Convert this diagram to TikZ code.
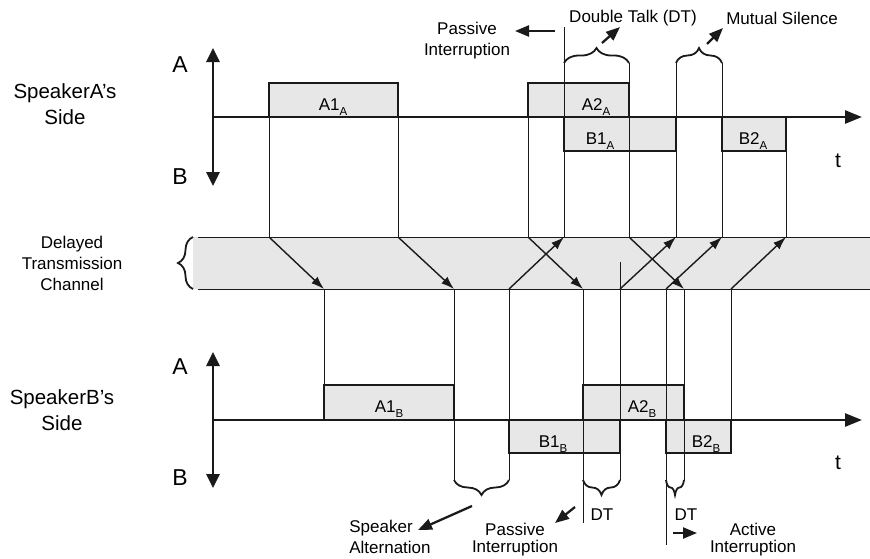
\documentclass[tikz,border=0pt]{standalone}
\usepackage{fontspec}
\setmainfont{Liberation Sans}
\usepackage{tikz}
\usetikzlibrary{arrows.meta, decorations.pathreplacing, positioning}

\newcommand{\subtag}[1]{\raisebox{-5pt}{\fontsize{11.5}{12}\selectfont #1}}

\begin{document}
\begin{tikzpicture}[x=1pt, y=-1pt,
  lbl/.style={font=\fontsize{17}{21}\selectfont, inner sep=1pt, align=center},
  boxlbl/.style={font=\fontsize{17}{21}\selectfont, inner sep=0pt, anchor=base},
  sidelbl/.style={font=\fontsize{20.5}{26}\selectfont, inner sep=0pt, align=center},
  axlbl/.style={font=\fontsize{23}{26}\selectfont, inner sep=0pt},
  tlbl/.style={font=\fontsize{21}{24}\selectfont, inner sep=0pt},
  talkbox/.style={fill=chgray, draw=ink, line width=1.6pt},
  guide/.style={draw=ink, line width=0.8pt},
  chline/.style={draw=ink, line width=0.9pt},
  axisline/.style={draw=ink, line width=2.6pt},
  delay/.style={draw=ink, line width=1.4pt, -{Latex[length=13pt,width=9pt]}},
  callout/.style={draw=ink, line width=2.3pt, -{Triangle[length=14pt,width=11pt]}},
  topbrace/.style={draw=ink, line width=1.8pt, decorate, decoration={brace, amplitude=15pt}},
  botbrace/.style={draw=ink, line width=1.8pt, decorate, decoration={brace, amplitude=15pt, mirror}}]
  \definecolor{chgray}{HTML}{E6E7E6}
  \definecolor{ink}{HTML}{1A1A1A}

  \useasboundingbox (0,0) rectangle (870,558);

  % levels
  \coordinate (axA) at (213,117);
  \coordinate (hiA) at (213,83);
  \coordinate (loA) at (213,151);
  \coordinate (brA) at (213,63);
  \coordinate (piA) at (213,27);
  \coordinate (axB) at (213,420);
  \coordinate (hiB) at (213,385);
  \coordinate (loB) at (213,453);
  \coordinate (brB) at (213,480);
  \coordinate (dtA) at (213,523);
  \coordinate (dtC) at (213,545);
  \coordinate (midC) at (213,262);

  % time marks on speaker A's side of the channel
  \coordinate (ta1) at (269,237);
  \coordinate (ta2) at (398,237);
  \coordinate (ta3) at (528,237);
  \coordinate (ta4) at (564,237);
  \coordinate (ta5) at (629,237);
  \coordinate (ta6) at (676,237);
  \coordinate (ta7) at (722,237);
  \coordinate (ta8) at (786,237);
  % time marks on speaker B's side of the channel
  \coordinate (tb1) at (324,289);
  \coordinate (tb2) at (454,289);
  \coordinate (tb3) at (509,289);
  \coordinate (tb4) at (583,289);
  \coordinate (tb5) at (620,289);
  \coordinate (tb6) at (666,289);
  \coordinate (tb7) at (684,289);
  \coordinate (tb8) at (731,289);

  % channel
  \coordinate (chL) at (193,237);
  \coordinate (chR) at (870,289);
  \fill[chgray] (chL) rectangle (chR);
  \draw[chline] ([xshift=5pt]chL) -- (chR |- chL);
  \draw[chline] ([xshift=5pt]chL |- chR) -- (chR);
  \draw[draw=ink, line width=1.8pt, decorate, decoration={brace, amplitude=15pt}] (chL |- chR) -- (chL);

  % talk spurts
  \draw[talkbox] (ta1 |- hiA) rectangle (ta2 |- axA);
  \draw[talkbox] (ta3 |- hiA) rectangle (ta5 |- axA);
  \draw[talkbox] (ta4 |- axA) rectangle (ta6 |- loA);
  \draw[talkbox] (ta7 |- axA) rectangle (ta8 |- loA);
  \draw[talkbox] (tb1 |- hiB) rectangle (tb2 |- axB);
  \draw[talkbox] (tb4 |- hiB) rectangle (tb7 |- axB);
  \draw[talkbox] (tb3 |- axB) rectangle (tb5 |- loB);
  \draw[talkbox] (tb6 |- axB) rectangle (tb8 |- loB);

  % guides, A side
  \draw[guide] (ta1 |- axA) -- (ta1);
  \draw[guide] (ta2 |- axA) -- (ta2);
  \draw[guide] (ta3 |- axA) -- (ta3);
  \draw[guide] (ta4 |- piA) -- (ta4);
  \draw[guide] (ta5 |- brA) -- (ta5);
  \draw[guide] (ta6 |- brA) -- (ta6);
  \draw[guide] (ta7 |- brA) -- (ta7);
  \draw[guide] (ta8 |- axA) -- (ta8);
  % guides, B side
  \draw[guide] (tb1) -- (tb1 |- hiB);
  \draw[guide] (tb2) -- (tb2 |- brB);
  \draw[guide] (tb3) -- (tb3 |- brB);
  \draw[guide] (tb4) -- (tb4 |- dtA);
  \draw[guide] (tb5 |- midC) -- (tb5 |- brB);
  \draw[guide] (tb6) -- (tb6 |- dtC);
  \draw[guide] (tb7) -- (tb7 |- brB);
  \draw[guide] (tb8) -- (tb8 |- axB);

  % delayed transmission
  \draw[delay] (ta1) -- (tb1);
  \draw[delay] (ta2) -- (tb2);
  \draw[delay] (ta3) -- (tb4);
  \draw[delay] (ta5) -- (tb7);
  \draw[delay] (tb3) -- (ta4);
  \draw[delay] (tb5) -- (ta6);
  \draw[delay] (tb6) -- (ta7);
  \draw[delay] (tb8) -- (ta8);

  % axes
  \coordinate (endA) at (862,117);
  \coordinate (endB) at (862,420);
  \coordinate (topA) at (213,48);
  \coordinate (botA) at (213,186);
  \coordinate (topB) at (213,352);
  \coordinate (botB) at (213,488);
  \draw[axisline, -{Triangle[length=17pt,width=13pt]}] (axA) -- (endA);
  \draw[axisline, -{Triangle[length=17pt,width=13pt]}] (axB) -- (endB);
  \draw[axisline, {Triangle[length=14pt,width=13pt]}-{Triangle[length=14pt,width=13pt]}] (topA) -- (botA);
  \draw[axisline, {Triangle[length=14pt,width=13pt]}-{Triangle[length=14pt,width=13pt]}] (topB) -- (botB);

  % braces
  \draw[topbrace] (ta4 |- brA) -- (ta5 |- brA);
  \draw[topbrace] (ta6 |- brA) -- (ta7 |- brA);
  \draw[botbrace] (tb2 |- brB) -- (tb3 |- brB);
  \draw[botbrace] (tb4 |- brB) -- (tb5 |- brB);
  \draw[botbrace] (tb6 |- brB) -- (tb7 |- brB);

  % box labels
  \node[boxlbl] (lA1A) at (333,110) {A1\subtag{A}};
  \node[boxlbl] (lA2A) at (596,110) {A2\subtag{A}};
  \node[boxlbl] (lB1A) at (600,144) {B1\subtag{A}};
  \node[boxlbl] (lB2A) at (753,144) {B2\subtag{A}};
  \node[boxlbl] (lA1B) at (389,412) {A1\subtag{B}};
  \node[boxlbl] (lA2B) at (642,412) {A2\subtag{B}};
  \node[boxlbl] (lB1B) at (553,447) {B1\subtag{B}};
  \node[boxlbl] (lB2B) at (706,447) {B2\subtag{B}};

  % side labels
  \node[sidelbl] (sideA) at (65,104) {SpeakerA's\\Side};
  \node[sidelbl] (sideB) at (62,410) {SpeakerB's\\Side};
  \node[lbl] (chTxt) at (72,263) {Delayed\\Transmission\\Channel};
  \node[axlbl] (aA) at (180,65) {A};
  \node[axlbl] (bA) at (180,177) {B};
  \node[axlbl] (aB) at (180,367) {A};
  \node[axlbl] (bB) at (180,478) {B};
  \node[tlbl] (tA) at (838,161) {t};
  \node[tlbl] (tB) at (838,463) {t};

  % annotations
  \node[lbl] (pasA) at (467,41) {Passive\\Interruption};
  \node[lbl] (dtTxt) at (633,18) {Double Talk (DT)};
  \node[lbl] (msTxt) at (782,18) {Mutual Silence};
  \node[lbl, align=left] (saTxt) at (390,537) {Speaker\\Alternation};
  \node[lbl, font=\fontsize{17}{17}\selectfont] (pasB) at (515,540) {Passive\\Interruption};
  \node[lbl] (dtB1) at (602,515) {DT};
  \node[lbl] (dtB2) at (686,515) {DT};
  \node[lbl, font=\fontsize{17}{17}\selectfont] (aiTxt) at (753,540) {Active\\Interruption};

  \coordinate (piS) at (555,31);
  \coordinate (piE) at (515,31);
  \coordinate (dtS) at (602,43);
  \coordinate (dtE) at (620,27);
  \coordinate (msS) at (707,44);
  \coordinate (msE) at (723,28);
  \coordinate (saS) at (472,506);
  \coordinate (saE) at (418,530);
  \coordinate (pbS) at (575,507);
  \coordinate (pbE) at (555,523);
  \coordinate (aiS) at (673,533);
  \coordinate (aiE) at (697,533);
  \draw[callout] (piS) -- (piE);
  \draw[callout] (dtS) -- (dtE);
  \draw[callout] (msS) -- (msE);
  \draw[callout] (saS) -- (saE);
  \draw[callout] (pbS) -- (pbE);
  \draw[callout] (aiS) -- (aiE);
\end{tikzpicture}
\end{document}
